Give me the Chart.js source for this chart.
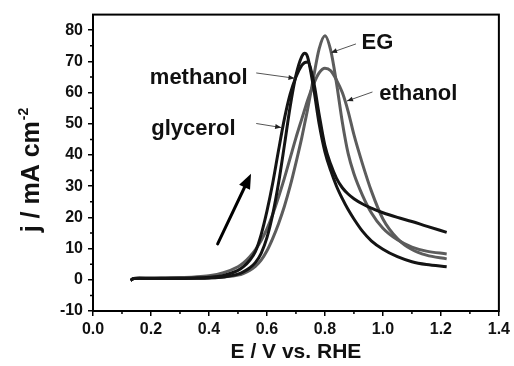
<!DOCTYPE html>
<html>
<head>
<meta charset="utf-8">
<script src="https://cdn.jsdelivr.net/npm/chart.js@4"></script>
<style>
  html, body { margin: 0; padding: 0; background: #fff; }
  #wrap { width: 514px; height: 366px; }
</style>
</head>
<body>
<div id="wrap"><canvas id="cv" width="514" height="366"></canvas></div>
<script>
// forward scans, potential in V vs. RHE, current density in mA cm-2
var potential = [0.13, 0.14, 0.16, 0.20, 0.25, 0.30, 0.35, 0.40, 0.45, 0.50, 0.52, 0.54, 0.56, 0.58,
  0.60, 0.62, 0.64, 0.66, 0.68, 0.70, 0.72, 0.73, 0.74, 0.76, 0.78, 0.80, 0.82, 0.84, 0.86, 0.88,
  0.90, 0.93, 0.96, 1.00, 1.05, 1.10, 1.15, 1.22];

var methanol = [-0.2, 0.4, 0.5, 0.4, 0.4, 0.4, 0.5, 0.6, 0.9, 1.8, 2.6, 3.8, 5.5, 8.5,
  13.5, 21, 31, 43, 55.5, 65.5, 71.5, 72.6, 71.5, 62, 50, 41, 35, 30, 26, 22.5,
  19.5, 15.5, 12.5, 9.8, 7.4, 5.8, 4.9, 4.2];

var glycerol = [-0.2, 0.4, 0.5, 0.5, 0.5, 0.5, 0.6, 0.8, 1.4, 3.0, 4.3, 6.2, 9, 14.5,
  22, 31, 41.5, 51.5, 59.5, 65, 68.7, 69.6, 69.8, 64, 53, 43, 37, 32.5, 29.5, 27.5,
  26, 24.3, 23, 21.5, 20, 18.7, 17.2, 15.2];

var eg = [-0.2, 0.4, 0.5, 0.5, 0.5, 0.5, 0.5, 0.6, 0.9, 1.5, 2.1, 3.0, 4.3, 6.3,
  9.3, 13.3, 18, 23.5, 30, 37.5, 45.5, 50, 54.5, 64.5, 74, 78.2, 73.5, 63, 50.5, 40.5,
  34, 27, 21.5, 16.5, 12.8, 10.5, 9.2, 8.3];

var ethanol = [-0.2, 0.4, 0.5, 0.5, 0.6, 0.7, 0.9, 1.3, 2.3, 4.2, 5.5, 7.3, 9.6, 12.6,
  16.3, 21, 26.5, 32.5, 39, 45.5, 51.5, 54.5, 57.5, 62.5, 66.3, 67.8, 67, 64, 60, 54,
  46.5, 37, 28.5, 19.5, 13.2, 9.7, 7.9, 6.7];

var yMajor = [-10, 0, 10, 20, 30, 40, 50, 60, 70, 80];
var yMinor = [-5, 5, 15, 25, 35, 45, 55, 65, 75];
var xMinor = [0.1, 0.3, 0.5, 0.7, 0.9, 1.1, 1.3];

// curve labels and their pointer lines, in data units
var curveLabels = [
  { text: 'methanol', x: 0.196, y: 62.6 },
  { text: 'glycerol', x: 0.201, y: 46.4 },
  { text: 'EG', x: 0.926, y: 74 },
  { text: 'ethanol', x: 0.987, y: 57.6 }
];
var pointers = [
  { from: [0.563, 66.3], to: [0.695, 64.6] },
  { from: [0.563, 50.1], to: [0.649, 48.8] },
  { from: [0.907, 75.6], to: [0.821, 72.8] },
  { from: [0.964, 60.2], to: [0.876, 57.3] }
];
var scanArrow = { from: [0.43, 11.5], to: [0.545, 34] };

function pts(arr) {
  return potential.map(function (e, i) { return { x: e, y: arr[i] }; });
}

Chart.defaults.font.family = "'Liberation Sans', Arial, sans-serif";
Chart.defaults.font.weight = 'bold';
Chart.defaults.color = '#111';

function arrowHead(ctx, x0, y0, x1, y1, len, half) {
  var a = Math.atan2(y1 - y0, x1 - x0);
  ctx.beginPath();
  ctx.moveTo(x1, y1);
  ctx.lineTo(x1 - len * Math.cos(a) + half * Math.sin(a), y1 - len * Math.sin(a) - half * Math.cos(a));
  ctx.lineTo(x1 - len * Math.cos(a) - half * Math.sin(a), y1 - len * Math.sin(a) + half * Math.cos(a));
  ctx.closePath();
  ctx.fill();
}

var decor = {
  id: 'decor',
  afterDraw: function (chart) {
    var ctx = chart.ctx, xs = chart.scales.x, ys = chart.scales.y, ca = chart.chartArea;
    ctx.save();
    // frame
    ctx.strokeStyle = '#000';
    ctx.lineWidth = 2;
    ctx.strokeRect(ca.left, ca.top, ca.right - ca.left, ca.bottom - ca.top);

    // minor ticks
    ctx.lineWidth = 1.5;
    ctx.beginPath();
    yMinor.forEach(function (v) {
      var py = ys.getPixelForValue(v);
      ctx.moveTo(ca.left, py); ctx.lineTo(ca.left - 3, py);
    });
    xMinor.forEach(function (v) {
      var px = xs.getPixelForValue(v);
      ctx.moveTo(px, ca.bottom); ctx.lineTo(px, ca.bottom + 3);
    });
    ctx.stroke();

    // curve labels
    ctx.fillStyle = '#111';
    ctx.font = "bold 22px 'Liberation Sans', Arial, sans-serif";
    ctx.textBaseline = 'alphabetic';
    ctx.textAlign = 'left';
    curveLabels.forEach(function (l) {
      ctx.fillText(l.text, xs.getPixelForValue(l.x), ys.getPixelForValue(l.y));
    });

    // thin pointers
    ctx.strokeStyle = '#555';
    ctx.fillStyle = '#222';
    ctx.lineWidth = 1;
    pointers.forEach(function (p) {
      var x0 = xs.getPixelForValue(p.from[0]), y0 = ys.getPixelForValue(p.from[1]);
      var x1 = xs.getPixelForValue(p.to[0]), y1 = ys.getPixelForValue(p.to[1]);
      ctx.beginPath(); ctx.moveTo(x0, y0); ctx.lineTo(x1, y1); ctx.stroke();
      arrowHead(ctx, x0, y0, x1, y1, 6, 2.5);
    });

    // scan direction arrow
    var ax0 = xs.getPixelForValue(scanArrow.from[0]), ay0 = ys.getPixelForValue(scanArrow.from[1]);
    var ax1 = xs.getPixelForValue(scanArrow.to[0]), ay1 = ys.getPixelForValue(scanArrow.to[1]);
    var ang = Math.atan2(ay1 - ay0, ax1 - ax0);
    ctx.strokeStyle = '#000';
    ctx.fillStyle = '#000';
    ctx.lineWidth = 3;
    ctx.lineCap = 'round';
    ctx.beginPath();
    ctx.moveTo(ax0, ay0);
    ctx.lineTo(ax1 - 10 * Math.cos(ang), ay1 - 10 * Math.sin(ang));
    ctx.stroke();
    arrowHead(ctx, ax0, ay0, ax1, ay1, 15, 6);

    // y axis title with superscript
    ctx.save();
    ctx.translate(39, 170);
    ctx.rotate(-Math.PI / 2);
    ctx.fillStyle = '#111';
    var main = 'j / mA cm', sup = '-2';
    ctx.font = "bold 25px 'Liberation Sans', Arial, sans-serif";
    var wMain = ctx.measureText(main).width;
    ctx.font = "bold 14px 'Liberation Sans', Arial, sans-serif";
    var wSup = ctx.measureText(sup).width;
    var start = -(wMain + wSup + 1) / 2;
    ctx.font = "bold 25px 'Liberation Sans', Arial, sans-serif";
    ctx.textAlign = 'left';
    ctx.fillText(main, start, 0);
    ctx.font = "bold 14px 'Liberation Sans', Arial, sans-serif";
    ctx.fillText(sup, start + wMain + 1, -11);
    ctx.restore();

    ctx.restore();
  }
};

var black = '#141414', grey = '#5c5c5c';

function series(label, arr, color, order) {
  return {
    label: label,
    data: pts(arr),
    borderColor: color,
    backgroundColor: color,
    borderWidth: 3,
    pointRadius: 0,
    cubicInterpolationMode: 'monotone',
    fill: false,
    order: order
  };
}

new Chart(document.getElementById('cv'), {
  type: 'line',
  data: {
    datasets: [
      series('methanol', methanol, black, 1),
      series('glycerol', glycerol, black, 2),
      series('EG', eg, grey, 3),
      series('ethanol', ethanol, grey, 4)
    ]
  },
  options: {
    responsive: false,
    animation: false,
    devicePixelRatio: 1,
    layout: { padding: { left: 0, right: 14, top: 12, bottom: 0 } },
    plugins: { legend: { display: false }, tooltip: { enabled: false } },
    scales: {
      x: {
        type: 'linear',
        min: 0,
        max: 1.4,
        border: { display: false },
        grid: { drawOnChartArea: false, drawTicks: true, tickLength: 5, color: '#000', lineWidth: 1.5 },
        ticks: {
          stepSize: 0.2,
          padding: 4,
          color: '#111',
          font: { size: 16, weight: 'bold' },
          maxRotation: 0,
          callback: function (v) { return Number(v).toFixed(1); }
        },
        title: {
          display: true,
          text: 'E / V vs. RHE',
          color: '#111',
          font: { size: 21, weight: 'bold' },
          padding: { top: 0, bottom: 1 }
        },
        afterFit: function (s) { s.height = 55; }
      },
      y: {
        min: -10,
        max: 85,
        border: { display: false },
        grid: { drawOnChartArea: false, drawTicks: true, tickLength: 5, color: '#000', lineWidth: 1.5 },
        ticks: {
          stepSize: 10,
          padding: 5,
          color: '#111',
          font: { size: 16, weight: 'bold' }
        },
        afterBuildTicks: function (s) {
          s.ticks = yMajor.map(function (v) { return { value: v }; });
        },
        afterFit: function (s) { s.width = 93; }
      }
    }
  },
  plugins: [decor]
});
</script>
</body>
</html>
